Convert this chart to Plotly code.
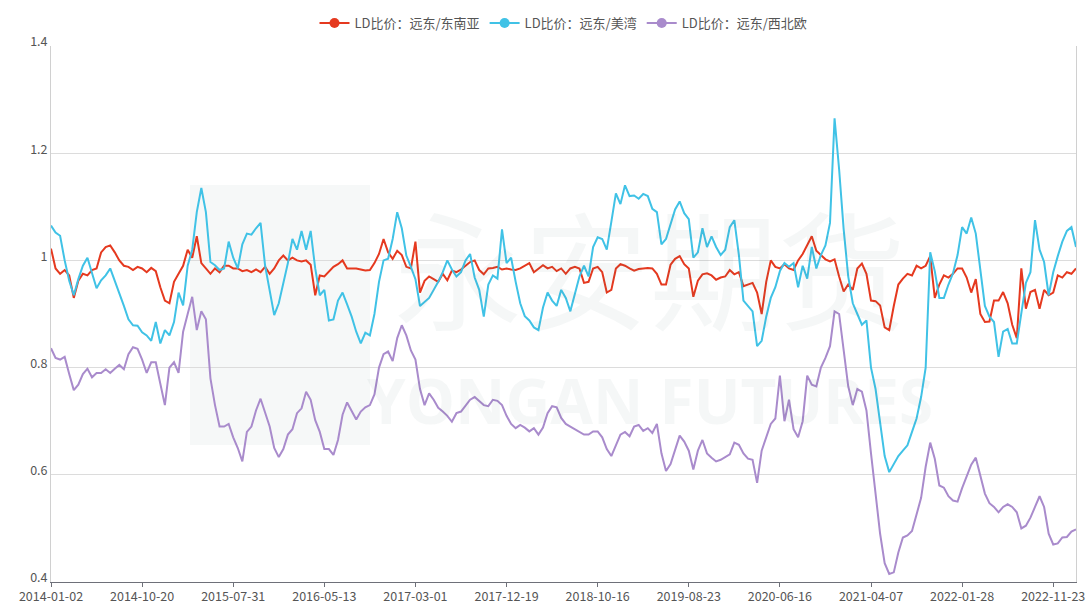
import pandas as pd
import plotly.graph_objects as go

# Axis labels shown under the chart (category axis, one label every 20 samples)
tick_dates = ["2014-01-02", "2014-10-20", "2015-07-31", "2016-05-13", "2017-03-01",
              "2017-12-19", "2018-10-16", "2019-08-23", "2020-06-16", "2021-04-07",
              "2022-01-28", "2022-11-23"]

# LD ratio: Far East / Southeast Asia
se_asia = [
    1.022, 0.985, 0.975, 0.982, 0.972, 0.930, 0.962, 0.975, 0.972, 0.982,
    0.985, 1.015, 1.025, 1.028, 1.015, 1.000, 0.990, 0.988, 0.982, 0.988,
    0.985, 0.978, 0.986, 0.980, 0.950, 0.925, 0.920, 0.960, 0.975, 0.990,
    1.020, 1.005, 1.045, 0.995, 0.985, 0.975, 0.985, 0.978, 0.990, 0.990,
    0.985, 0.985, 0.980, 0.982, 0.978, 0.983, 0.978, 0.988, 0.975, 0.985,
    1.000, 1.009, 1.000, 1.005, 1.000, 0.998, 1.000, 0.992, 0.935, 0.972,
    0.970, 0.980, 0.988, 0.993, 1.000, 0.985, 0.985, 0.985, 0.983, 0.981,
    0.982, 0.995, 1.012, 1.040, 1.015, 1.003, 1.018, 1.010, 0.988, 0.985,
    1.035, 0.940, 0.962, 0.970, 0.965, 0.960, 0.975, 0.963, 0.981, 0.978,
    0.983, 0.990, 0.997, 1.000, 0.982, 0.974, 0.985, 0.986, 0.988, 0.983,
    0.985, 0.983, 0.982, 0.985, 0.990, 0.995, 0.978, 0.985, 0.991, 0.985,
    0.988, 0.980, 0.985, 0.975, 0.985, 0.988, 0.985, 0.958, 0.960, 0.985,
    0.988, 0.978, 0.940, 0.945, 0.985, 0.993, 0.990, 0.985, 0.981, 0.984,
    0.985, 0.986, 0.985, 0.975, 0.955, 0.955, 0.992, 1.003, 1.008, 0.993,
    0.985, 0.932, 0.962, 0.974, 0.976, 0.972, 0.964, 0.968, 0.970, 0.982,
    0.974, 0.978, 0.952, 0.955, 0.958, 0.940, 0.900, 0.960, 1.000, 0.988,
    0.985, 0.993, 0.985, 0.982, 1.000, 1.012, 1.030, 1.045, 1.018, 1.010,
    1.002, 0.998, 1.002, 0.970, 0.942, 0.955, 0.945, 0.985, 0.994, 0.975,
    0.925, 0.924, 0.916, 0.875, 0.870, 0.915, 0.955, 0.966, 0.975, 0.972,
    0.990, 0.985, 0.990, 1.008, 0.930, 0.955, 0.972, 0.968, 0.975, 0.985,
    0.985, 0.968, 0.940, 0.965, 0.900, 0.885, 0.886, 0.925, 0.925, 0.941,
    0.920, 0.880, 0.855, 0.985, 0.910, 0.941, 0.945, 0.910, 0.945, 0.935,
    0.940, 0.972, 0.968, 0.978, 0.975, 0.985,
]

# LD ratio: Far East / US Gulf
us_gulf = [
    1.065, 1.052, 1.046, 1.000, 0.962, 0.935, 0.965, 0.990, 1.005, 0.975,
    0.948, 0.963, 0.972, 0.985, 0.962, 0.940, 0.915, 0.890, 0.879, 0.878,
    0.866, 0.860, 0.850, 0.885, 0.845, 0.870, 0.860, 0.885, 0.940, 0.916,
    0.990, 1.020, 1.090, 1.135, 1.090, 0.997, 0.991, 0.982, 0.985, 1.035,
    1.005, 0.985, 1.030, 1.050, 1.048, 1.060, 1.070, 0.990, 0.945, 0.898,
    0.920, 0.955, 0.995, 1.040, 1.020, 1.055, 1.020, 1.055, 0.985, 0.935,
    0.945, 0.888, 0.890, 0.925, 0.940, 0.918, 0.895, 0.867, 0.845, 0.865,
    0.860, 0.900, 0.960, 1.000, 1.003, 1.040, 1.090, 1.060, 1.009, 0.988,
    0.965, 0.915, 0.923, 0.930, 0.945, 0.960, 0.978, 1.000, 0.983, 0.970,
    0.978, 1.000, 1.012, 0.968, 0.945, 0.895, 0.955, 0.972, 0.966, 1.058,
    0.995, 1.005, 0.960, 0.920, 0.896, 0.888, 0.875, 0.870, 0.912, 0.940,
    0.925, 0.915, 0.945, 0.930, 0.905, 0.935, 0.970, 0.990, 0.970, 1.025,
    1.043, 1.040, 1.020, 1.072, 1.125, 1.105, 1.140, 1.120, 1.121, 1.115,
    1.124, 1.120, 1.096, 1.090, 1.030, 1.040, 1.070, 1.095, 1.110, 1.088,
    1.077, 1.005, 1.015, 1.060, 1.025, 1.045, 1.025, 1.010, 1.020, 1.062,
    1.075, 1.010, 0.925, 0.915, 0.905, 0.840, 0.850, 0.895, 0.930, 0.950,
    0.980, 0.995, 0.988, 0.995, 0.950, 0.990, 0.966, 1.025, 0.985, 1.010,
    1.028, 1.070, 1.265, 1.170, 1.058, 0.970, 0.920, 0.900, 0.880, 0.888,
    0.800, 0.760, 0.700, 0.635, 0.605, 0.620, 0.635, 0.645, 0.655, 0.680,
    0.705, 0.745, 0.800, 1.015, 0.980, 0.930, 0.930, 0.955, 0.976, 1.010,
    1.062, 1.050, 1.080, 1.050, 0.978, 0.915, 0.895, 0.885, 0.820, 0.867,
    0.872, 0.845, 0.845, 0.904, 0.958, 0.978, 1.075, 1.020, 0.997, 0.935,
    0.978, 1.008, 1.035, 1.055, 1.062, 1.025,
]

# LD ratio: Far East / Northwest Europe
nw_europe = [
    0.836, 0.818, 0.815, 0.820, 0.788, 0.758, 0.768, 0.788, 0.798, 0.782,
    0.790, 0.790, 0.797, 0.790, 0.798, 0.805, 0.797, 0.825, 0.838, 0.835,
    0.815, 0.790, 0.810, 0.810, 0.770, 0.730, 0.800, 0.810, 0.790, 0.867,
    0.900, 0.932, 0.870, 0.905, 0.890, 0.780, 0.730, 0.690, 0.690, 0.695,
    0.670, 0.650, 0.625, 0.680, 0.690, 0.720, 0.742, 0.715, 0.690, 0.650,
    0.633, 0.648, 0.675, 0.685, 0.715, 0.724, 0.755, 0.740, 0.702, 0.680,
    0.648, 0.648, 0.637, 0.665, 0.712, 0.735, 0.718, 0.703, 0.718, 0.726,
    0.730, 0.750, 0.800, 0.825, 0.830, 0.812, 0.855, 0.879, 0.860, 0.832,
    0.815, 0.760, 0.730, 0.752, 0.740, 0.725, 0.718, 0.710, 0.699, 0.715,
    0.718, 0.728, 0.740, 0.745, 0.738, 0.730, 0.728, 0.740, 0.738, 0.730,
    0.710, 0.695, 0.687, 0.693, 0.688, 0.681, 0.687, 0.675, 0.688, 0.715,
    0.728, 0.726, 0.706, 0.695, 0.690, 0.685, 0.680, 0.675, 0.675, 0.681,
    0.681, 0.670, 0.648, 0.635, 0.655, 0.675, 0.680, 0.672, 0.690, 0.693,
    0.682, 0.687, 0.678, 0.695, 0.640, 0.607, 0.620, 0.645, 0.673, 0.662,
    0.645, 0.610, 0.645, 0.665, 0.640, 0.632, 0.625, 0.628, 0.633, 0.638,
    0.660, 0.656, 0.640, 0.630, 0.628, 0.585, 0.645, 0.672, 0.695, 0.705,
    0.785, 0.700, 0.740, 0.685, 0.670, 0.700, 0.785, 0.768, 0.765, 0.800,
    0.818, 0.840, 0.905, 0.900, 0.830, 0.765, 0.730, 0.760, 0.755, 0.720,
    0.640, 0.560, 0.490, 0.435, 0.415, 0.418, 0.455, 0.483, 0.487, 0.495,
    0.525, 0.557, 0.615, 0.660, 0.630, 0.580, 0.576, 0.560, 0.552, 0.550,
    0.575, 0.598, 0.619, 0.632, 0.600, 0.565, 0.547, 0.540, 0.530, 0.540,
    0.545, 0.540, 0.530, 0.500, 0.505, 0.520, 0.540, 0.560, 0.540, 0.490,
    0.470, 0.472, 0.483, 0.484, 0.494, 0.498,
]

series_names = ["LD比价：远东/东南亚", "LD比价：远东/美湾", "LD比价：远东/西北欧"]
series_colors = ["#e5391f", "#40c2e6", "#a98bcc"]

# Category dates: 20 steps between consecutive axis labels, plus a short tail
dates = []
for start, end in zip(tick_dates[:-1], tick_dates[1:]):
    dates += list(pd.date_range(start, end, periods=21)[:-1])
dates.append(pd.Timestamp(tick_dates[-1]))
tail_step = pd.Timedelta(days=15)
while len(dates) < len(se_asia):
    dates.append(dates[-1] + tail_step)
dates = [d.strftime("%Y-%m-%d") for d in dates]

fig = go.Figure()
for name, color, values in zip(series_names, series_colors, [se_asia, us_gulf, nw_europe]):
    fig.add_trace(go.Scatter(
        x=dates, y=values, mode="lines", name=name, showlegend=False,
        line=dict(color=color, width=2), hoverinfo="x+y",
    ))
# Legend entries drawn as a line with a circle
for name, color in zip(series_names, series_colors):
    fig.add_trace(go.Scatter(
        x=[None], y=[None], mode="lines+markers", name=name,
        line=dict(color=color, width=2), marker=dict(color=color, size=10),
    ))

# Faint company watermark behind the lines
PL, PR, PT, PB = 51, 1076, 46, 582
def px(x):
    return (x - PL) / (PR - PL)
def py(y):
    return (PB - y) / (PB - PT)

fig.add_shape(type="rect", xref="paper", yref="paper",
              x0=px(190), x1=px(370), y0=py(445), y1=py(185),
              fillcolor="#f6f8f8", line=dict(width=0), layer="below")
fig.add_annotation(text="永安期货", xref="paper", yref="paper",
                   x=px(650), y=py(265), showarrow=False,
                   font=dict(family="Noto Sans CJK SC", size=128, color="rgba(60,90,90,0.05)"))
fig.add_annotation(text="<b>YONGAN FUTURES</b>", xref="paper", yref="paper",
                   x=px(650), y=py(400), showarrow=False,
                   font=dict(family="Open Sans", size=62, color="rgba(60,90,90,0.05)"))

fig.update_layout(
    width=1089, height=606,
    margin=dict(l=PL, r=1089 - PR, t=PT, b=606 - PB, autoexpand=False),
    paper_bgcolor="white", plot_bgcolor="white",
    font=dict(family="Noto Sans CJK SC, Noto Sans, sans-serif", size=13, color="#666"),
    legend=dict(orientation="h", x=0.5, xanchor="center",
                y=py(8), yanchor="top",
                font=dict(size=13, color="#555"),
                itemwidth=30, bgcolor="rgba(0,0,0,0)"),
    showlegend=True,
)

fig.update_xaxes(
    type="category", range=[0, len(dates) - 1], automargin=False,
    tickmode="array", tickvals=tick_dates, ticktext=tick_dates,
    showgrid=False, showline=True, linecolor="#6e7079", linewidth=1,
    ticks="outside", ticklen=4, tickcolor="#6e7079", ticklabelstandoff=-1,
    tickfont=dict(size=12.5, color="#555"), tickangle=0,
)
fig.update_yaxes(
    range=[0.4, 1.4], dtick=0.2, tick0=0.4, automargin=False,
    showgrid=True, gridcolor="#dcdcdc", gridwidth=1,
    showline=True, linecolor="#d0d0d0", mirror=True, zeroline=False,
    ticks="", ticklabelshift=-4, tickfont=dict(size=12.5, color="#555"),
)

fig.write_html("out.html")
